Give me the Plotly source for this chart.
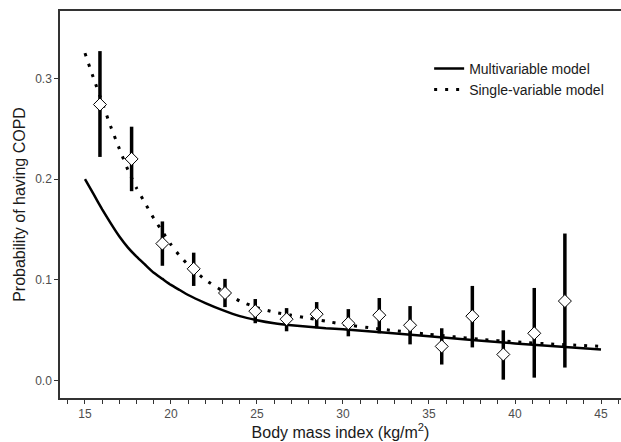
import plotly.graph_objects as go

# Observed group estimates (BMI group midpoint, probability, 95% CI)
bmi_obs = [15.87, 17.71, 19.5, 21.32, 23.14, 24.9, 26.72, 28.47, 30.31, 32.11,
           33.9, 35.74, 37.52, 39.32, 41.12, 42.9]
prob_obs = [0.274, 0.220, 0.136, 0.111, 0.087, 0.069, 0.061, 0.066, 0.057, 0.065,
            0.055, 0.034, 0.064, 0.026, 0.047, 0.079]
ci_low = [0.222, 0.188, 0.114, 0.094, 0.073, 0.057, 0.049, 0.052, 0.044, 0.047,
          0.036, 0.016, 0.033, 0.001, 0.003, 0.013]
ci_high = [0.327, 0.252, 0.158, 0.127, 0.101, 0.081, 0.072, 0.078, 0.071, 0.082,
           0.074, 0.052, 0.094, 0.050, 0.092, 0.146]

# Multivariable model curve
bmi_multi = [15, 15.5, 16, 16.5, 17, 17.5, 18, 18.5, 19, 19.5, 20, 20.5, 21, 22, 23,
             24, 25, 26, 27, 28, 29, 30, 35, 40, 45]
prob_multi = [0.200, 0.185, 0.170, 0.156, 0.143, 0.132, 0.123, 0.115, 0.107, 0.101,
              0.095, 0.090, 0.085, 0.077, 0.070, 0.064, 0.060, 0.057, 0.055, 0.0535,
              0.052, 0.051, 0.044, 0.037, 0.031]

# Single-variable model curve
bmi_single = [15, 15.5, 16, 16.5, 17, 17.5, 18, 18.5, 19, 19.5, 20, 20.5, 21, 22, 23,
              24, 25, 26, 27, 28, 29, 30, 32, 35, 38, 40, 42, 45]
prob_single = [0.325, 0.300, 0.276, 0.252, 0.230, 0.209, 0.191, 0.176, 0.161, 0.148,
               0.135, 0.124, 0.115, 0.100, 0.089, 0.079, 0.0725, 0.068, 0.065, 0.062,
               0.059, 0.056, 0.0515, 0.046, 0.041, 0.0385, 0.0365, 0.034]

err_plus = [h - p for h, p in zip(ci_high, prob_obs)]
err_minus = [p - l for p, l in zip(prob_obs, ci_low)]

FONT = "Liberation Sans, Arial, sans-serif"

fig = go.Figure()
fig.add_trace(go.Scatter(
    x=bmi_multi, y=prob_multi, mode="lines", name="Multivariable model",
    line=dict(color="black", width=2.5, shape="spline", smoothing=0.5),
))
fig.add_trace(go.Scatter(
    x=bmi_single, y=prob_single, mode="lines", name="Single-variable model",
    line=dict(color="black", width=3, dash="3px,8px", shape="spline", smoothing=0.5),
))
fig.add_trace(go.Scatter(
    x=bmi_obs, y=prob_obs, mode="markers", showlegend=False,
    marker=dict(symbol="diamond", size=10, color="white",
                line=dict(color="black", width=1)),
    error_y=dict(type="data", symmetric=False, array=err_plus, arrayminus=err_minus,
                 color="black", thickness=3.5, width=0),
))

axis_common = dict(
    showline=True, linecolor="#333333", linewidth=1.5,
    ticks="outside", ticklen=4, tickcolor="#333333", tickwidth=1,
    showgrid=False, zeroline=False,
    tickfont=dict(family=FONT, size=12, color="#4d4d4d"),
    title_font=dict(family=FONT, size=16, color="#1a1a1a"),
)

fig.update_layout(
    width=621, height=442,
    margin=dict(l=60, r=0, t=11, b=44),
    paper_bgcolor="white", plot_bgcolor="white",
    xaxis=dict(range=[13.547, 46.163], tick0=15, dtick=5, mirror=True,
               minor=dict(dtick=1, ticks="outside", ticklen=4, tickcolor="#333333"),
               title=dict(text="Body mass index (kg/m<sup>2</sup>)", standoff=5),
               **axis_common),
    yaxis=dict(range=[-0.0172, 0.3668], tick0=0, dtick=0.1, tickformat=".1f",
               title=dict(text="Probability of having COPD", standoff=6),
               **axis_common),
    legend=dict(x=0.658, y=0.892, xanchor="left", yanchor="top",
                bgcolor="rgba(255,255,255,0)",
                font=dict(family=FONT, size=14, color="#1a1a1a")),
)

fig.write_html("out.html", config={"displayModeBar": False},
               post_script="document.body.style.margin='0';document.body.style.overflow='hidden';")
